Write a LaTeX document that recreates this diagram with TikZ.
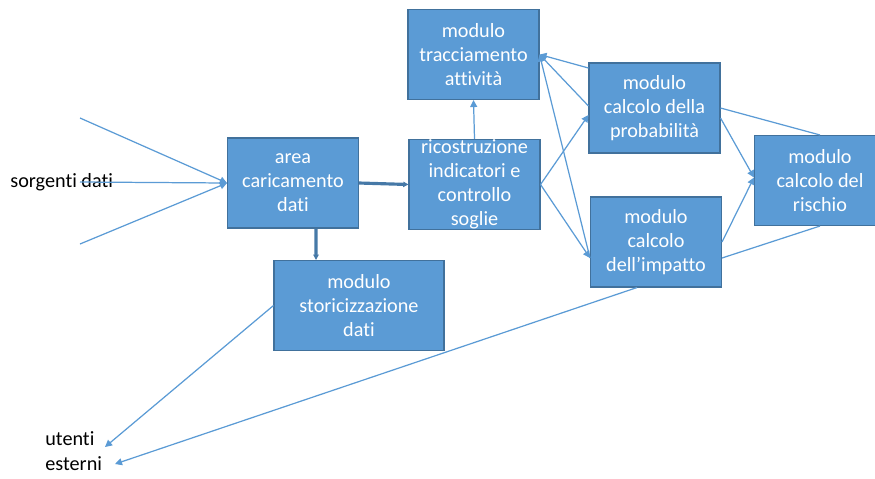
\documentclass[tikz,border=0pt]{standalone}
\usepackage{fontspec}
\setmainfont[Ligatures=NoCommon]{Carlito}
\usetikzlibrary{positioning,arrows.meta}
\definecolor{boxBL}{RGB}{91,155,213}
\definecolor{edgeBL}{RGB}{65,113,156}

\tikzset{
  modbox/.style={draw=edgeBL,fill=boxBL,line width=0.6pt,text=white,
    minimum width=#1,minimum height=1.8cm,inner sep=0pt,align=center,
    font=\fontsize{11.5}{13.6}\selectfont},
  modbox/.default=2.62cm,
  flow/.style={draw=boxBL,line width=0.7pt,-{Triangle[length=4pt,width=4pt]}},
  plain/.style={draw=boxBL,line width=0.7pt},
  fatflow/.style={draw=edgeBL!80!boxBL,line width=1.8pt,-{Triangle[length=3pt,width=3pt]}}
}

\begin{document}
\begin{tikzpicture}[x=0.02cm,y=-0.02cm]
  \useasboundingbox (0,0) rectangle (875,478);

  % boxes
  \node[modbox] (area)  at (293,183)   {area\\caricamento\\dati};
  \node[modbox] (ricos) at (474.5,184.5) {ricostruzione\\indicatori e\\controllo\\soglie};
  \node[modbox] (trac)  at (473.5,54.5) {modulo\\tracciamento\\attività};
  \node[modbox] (prob)  at (654.5,108) {modulo\\calcolo della\\probabilità};
  \node[modbox] (imp)   at (656,242)   {modulo\\calcolo\\dell’impatto};
  \node[modbox] (risch) at (820,180.5) {modulo\\calcolo del\\rischio};
  \node[modbox=3.4cm] (stor) at (359,305.5) {modulo\\storicizzazione\\dati};

  % outside labels
  \node[anchor=west,inner sep=0pt,font=\fontsize{11.5}{13.6}\selectfont] (src) at (10,182) {sorgenti dati};
  \node[anchor=west,inner sep=0pt,align=left,font=\fontsize{11.5}{14.5}\selectfont] (ext) at (45,451) {utenti\\esterni};
  \coordinate (s1) at (80,118);
  \coordinate (s2) at (80,182);
  \coordinate (s3) at (80,244);
  \coordinate (u1) at (105,447);
  \coordinate (u2) at (115,464);

  % connectors
  \draw[flow] (s1) -- (area.west);
  \draw[flow] (s2) -- (area.west);
  \draw[flow] (s3) -- (area.west);
  \draw[fatflow] (area.east) -- (ricos.west);
  \draw[fatflow] ([xshift=0.46cm]area.south) -- ([xshift=-0.86cm]stor.north);
  \draw[flow] (ricos.north) -- (trac.south);
  \draw[flow] ([yshift=0.8cm]prob.west) -- (trac.east);
  \draw[flow] ([yshift=0.04cm]prob.west) -- (trac.east);
  \draw[flow] ([yshift=-0.32cm]imp.west) -- (trac.east);
  \draw[flow] (ricos.east) -- ([yshift=-0.14cm]prob.west);
  \draw[flow] (ricos.east) -- ([yshift=-0.32cm]imp.west);
  \draw[plain] (prob.east) -- (risch.north);
  \draw[flow] ([yshift=-0.2cm]prob.east) -- ([yshift=0.06cm]risch.west);
  \draw[flow] (imp.east) -- ([yshift=0.06cm]risch.west);
  \draw[plain] ([yshift=-0.32cm]imp.east) -- (risch.south);
  \draw[flow] ([xshift=-0.38cm]imp.south) -- (u2);
  \draw[flow] (stor.west) -- (u1);
\end{tikzpicture}
\end{document}
